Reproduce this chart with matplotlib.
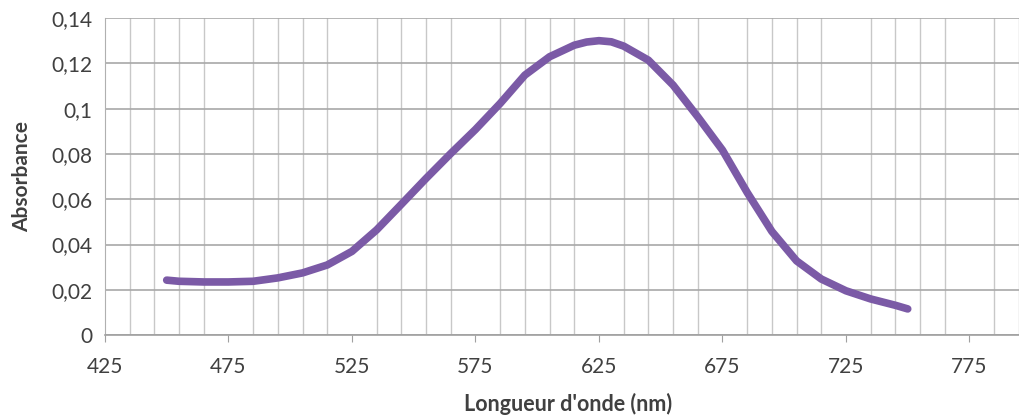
import matplotlib
matplotlib.use("Agg")
import matplotlib.pyplot as plt
from matplotlib.ticker import FixedLocator, MultipleLocator

plt.rcParams["font.family"] = ["Lato", "DejaVu Sans"]

# Spectrum
wavelength = [450, 455, 465, 475, 485, 495, 505, 515, 525, 535, 545, 555,
              565, 575, 585, 595, 605, 615, 620, 625, 630, 635, 645, 655,
              665, 675, 685, 695, 705, 715, 725, 735, 745, 750]
absorbance = [0.0243, 0.0238, 0.0235, 0.0235, 0.0238, 0.0253, 0.0275, 0.0310,
              0.0370, 0.0465, 0.0578, 0.0692, 0.0802, 0.0908, 0.1023, 0.1148,
              0.1229, 0.1280, 0.1294, 0.1300, 0.1295, 0.1276, 0.1214, 0.1104,
              0.0964, 0.0817, 0.0630, 0.0458, 0.0328, 0.0248, 0.0196, 0.0160,
              0.0132, 0.0116]

x_ticks = [425, 475, 525, 575, 625, 675, 725, 775]
y_ticks = [0, 0.02, 0.04, 0.06, 0.08, 0.1, 0.12, 0.14]
y_tick_labels = ["0", "0,02", "0,04", "0,06", "0,08", "0,1", "0,12", "0,14"]

TEXT = "#404040"

fig = plt.figure(figsize=(10.19, 4.19), dpi=100)
ax = fig.add_axes([0.103, 0.2, 0.909, 0.757])

ax.plot(wavelength, absorbance, color="#7B5AA6", linewidth=5.5,
        solid_capstyle="round", solid_joinstyle="round", zorder=3)

ax.set_xlim(425, 800)
ax.set_ylim(0, 0.14)
ax.xaxis.set_major_locator(FixedLocator(x_ticks))
ax.xaxis.set_minor_locator(MultipleLocator(10, offset=5))
ax.set_yticks(y_ticks)
ax.set_yticklabels(y_tick_labels)

ax.grid(which="major", axis="y", color="#A8A8A8", linewidth=1.2)
ax.grid(which="minor", axis="x", color="#C8C8C8", linewidth=1.0)
ax.set_axisbelow(True)

for side in ["top", "right"]:
    ax.spines[side].set_visible(False)
ax.spines["left"].set_color("#B0B0B0")
ax.spines["bottom"].set_color("#A0A0A0")
ax.spines["bottom"].set_linewidth(1.2)

ax.tick_params(axis="x", which="major", direction="out", length=5,
               color="#A0A0A0", labelsize=15, labelcolor=TEXT, pad=11)
ax.tick_params(axis="x", which="minor", length=0)
ax.tick_params(axis="y", length=0, labelsize=15, labelcolor=TEXT, pad=9)

ax.set_xlabel("Longueur d'onde (nm)", fontsize=15.5, fontweight="bold",
              color=TEXT, labelpad=11)
ax.set_ylabel("Absorbance", fontsize=15, fontweight="bold", color=TEXT,
              labelpad=14)

fig.savefig("out.png", dpi=100)
